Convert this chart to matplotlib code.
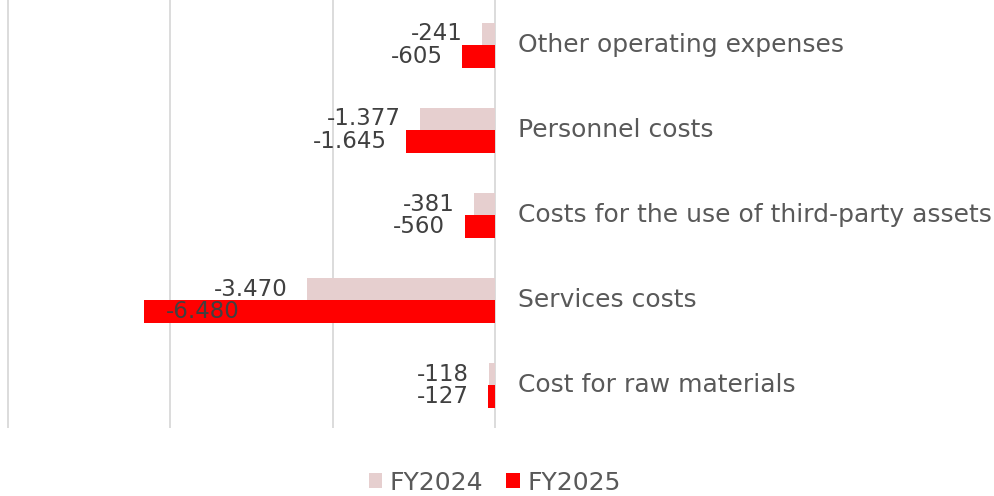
import matplotlib
matplotlib.use("Agg")
import matplotlib.pyplot as plt
import numpy as np

# dati (migliaia di euro), dal basso verso l'alto
categorie = ["Cost for raw materials", "Services costs",
             "Costs for the use of third-party assets",
             "Personnel costs", "Other operating expenses"]
fy2024 = [-118, -3470, -381, -1377, -241]
fy2025 = [-127, -6480, -560, -1645, -605]
serie = ["FY2024", "FY2025"]

C_24 = "#E6CFCF"
C_25 = "#FF0000"
C_GRID = "#D9D9D9"
C_TXT = "#404040"
C_CAT = "#595959"
FONT = "DejaVu Sans"


def fmt(v):
    # separatore migliaia con il punto
    return f"{v:,}".replace(",", ".")


fig = plt.figure(figsize=(9.95, 4.96), dpi=100)
ax = fig.add_axes([7.5 / 995, 68 / 496, 987.5 / 995, 428 / 496])

y = np.arange(len(categorie))
h = 0.265
b24 = ax.barh(y + h / 2, fy2024, height=h, color=C_24, zorder=2)
b25 = ax.barh(y - h / 2, fy2025, height=h, color=C_25, zorder=2)

ax.set_xlim(-9000, 9230)
ax.set_ylim(-0.5, 4.53)
for xv in [-9000, -6000, -3000, 0]:
    ax.axvline(xv, color=C_GRID, lw=1.3, zorder=1)
for s in ax.spines.values():
    s.set_visible(False)
ax.set_xticks([])
ax.set_yticks([])

# etichette valori
for yy, v in zip(y + h / 2, fy2024):
    ax.annotate(fmt(v), (v, yy), xytext=(-14, 0), textcoords="offset points",
                ha="right", va="center", fontsize=16.5, color=C_TXT,
                family=FONT, zorder=3)
for yy, v in zip(y - h / 2, fy2025):
    xv = max(v, -4350)  # etichetta spostata dentro la barra più lunga
    ax.annotate(fmt(v), (xv, yy), xytext=(-14, 0), textcoords="offset points",
                ha="right", va="center", fontsize=16.5, color=C_TXT,
                family=FONT, zorder=3)

# nomi categorie a destra dello zero
for yy, c in zip(y, categorie):
    ax.annotate(c, (0, yy), xytext=(16.5, 0), textcoords="offset points",
                ha="left", va="center", fontsize=18, color=C_CAT,
                family=FONT)

leg = fig.legend([b24, b25], serie, loc="center", bbox_to_anchor=(0.497, 0.027),
                 ncol=2, frameon=False, handlelength=0.55, handleheight=0.55,
                 handletextpad=0.3, columnspacing=0.9,
                 prop={"family": FONT, "size": 18})
for t in leg.get_texts():
    t.set_color(C_CAT)

fig.savefig("out.png", dpi=100)
